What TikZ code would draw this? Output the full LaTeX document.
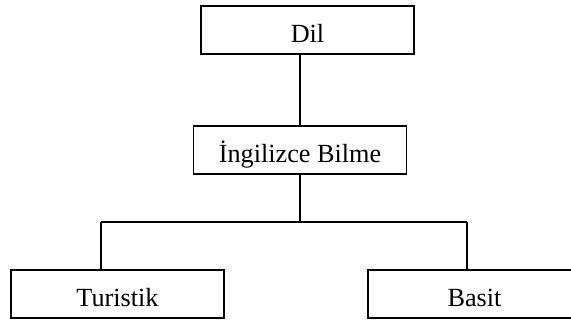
\documentclass[tikz,border=0pt]{standalone}
\usepackage{fontspec}
\setmainfont{Liberation Serif}
\usetikzlibrary{positioning,calc}

\tikzset{
    kutu/.style={draw, line width=0.9pt, minimum width=106.5pt, minimum height=24pt,
        inner sep=0pt, text height=12.5pt, text depth=0pt,
        font=\fontsize{13.1}{15.5}\selectfont},
    hat/.style={line width=0.9pt}
}

\begin{document}
\begin{tikzpicture}[x=0.5pt, y=-0.5pt]
    \useasboundingbox (0,0) rectangle (571,320);
    \clip (0,0) rectangle (571,320);

    \node[kutu] (dil) at (307.5,30) {Dil};
    \node[kutu] (ing) at (300,150) {İngilizce Bilme};
    \node[kutu] (tur) at (117.5,294) {Turistik};
    \node[kutu] (bas) at (474.5,294) {Basit};

    \coordinate (orta) at (300,222);
    \coordinate (sol) at (101,222);
    \coordinate (sag) at (467,222);

    \draw[hat] (dil.south -| ing.north) -- (ing.north);
    \draw[hat] (ing.south) -- (orta);
    \draw[hat] (sol) -- (sag);
    \draw[hat] (sol) -- (sol |- tur.north);
    \draw[hat] (sag) -- (sag |- bas.north);
\end{tikzpicture}
\end{document}
